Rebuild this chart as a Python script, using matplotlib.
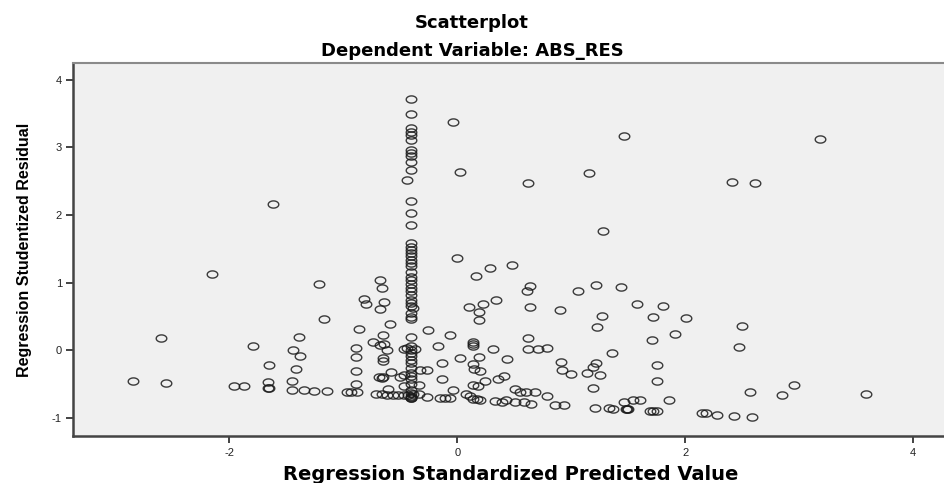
import numpy as np
import matplotlib.pyplot as plt
from matplotlib.path import Path

# 回归标准化预测值 (x) 与学生化残差 (y)
pred = [
    -2.85, -2.56, -2.60, -2.15, -1.96, -1.87, -1.79, -1.615, -1.66, -1.66, -1.65, -1.65,
    -1.45, -1.45, -1.44, -1.42, -1.39, -1.38, -1.35, -1.26, -1.21, -1.17, -1.14, -0.97, -0.93,
    -0.89, -0.89, -0.89, -0.89, -0.88, -0.86, -0.82, -0.80,
    -0.74, -0.68, -0.64, -0.62, -0.68, -0.66, -0.64, -0.68, -0.65, -0.59, -0.65, -0.65,
    -0.69, -0.66, -0.65, -0.58, -0.61,
    -0.71, -0.66, -0.62, -0.56, -0.52, -0.47, -0.43, -0.39, -0.34,
    -0.47, -0.50, -0.47, -0.34, -0.33, -0.27, -0.47, -0.37, -0.44,
    -0.41, -0.41, -0.41, -0.41, -0.41, -0.41, -0.41, -0.41, -0.41, -0.41, -0.41, -0.44,
    -0.41, -0.41, -0.41, -0.41, -0.41, -0.41, -0.41, -0.41, -0.41, -0.41, -0.41, -0.41,
    -0.41, -0.41, -0.41, -0.41, -0.41, -0.41, -0.41, -0.41, -0.41, -0.41, -0.39, -0.41,
    -0.41, -0.41,
    -0.41, -0.41, -0.41, -0.41, -0.41, -0.41, -0.41, -0.41, -0.41, -0.41, -0.41, -0.41,
    -0.41, -0.41, -0.41, -0.41, -0.41,
    -0.26, -0.27, -0.06, -0.17, -0.13, -0.13, 0.02, -0.15, -0.11, -0.06, -0.04,
    0.08, 0.11, 0.14, 0.17,
    -0.04, 0.02, 0.62, 1.16, 1.46, 1.28, 0.00, 0.16, 0.29, 0.48, 0.64, 0.61, 1.06, 1.22,
    1.44, 1.58, 0.10, 0.23, 0.34, 0.19, 0.19, 0.64, 0.90, 1.27, 1.23,
    0.14, 0.14, 0.14, 0.31, 0.19, 0.44, 0.62, 0.62, 0.71, 0.79, 1.36, 0.91, 0.92, 1.00,
    1.14, 1.19, 1.22, 1.25, 0.14, 0.15, 0.20, 0.36, 0.41, 0.24, 0.14, 0.18, 1.19,
    0.51, 0.55, 0.60, 0.68, 0.79, 0.20, 0.33, 0.39, 0.43, 0.51, 0.59, 0.65, 0.86, 0.94,
    1.21, 1.33, 1.37, 1.46, 1.49, 1.48,
    3.18, 2.41, 2.61, 1.81, 1.72, 2.01, 2.50, 1.91, 1.71, 2.47, 1.75, 1.75, 2.96, 2.57,
    2.85, 3.59, 1.86, 1.54, 1.60, 1.50, 1.69, 1.72, 1.75, 2.15, 2.18, 2.28, 2.43, 2.59,
]
resid = [
    -0.45, -0.48, 0.18, 1.13, -0.53, -0.53, 0.07, 2.17, -0.47, -0.56, -0.55, -0.21,
    -0.45, -0.58, 0.01, -0.28, 0.20, -0.09, -0.59, -0.60, 0.98, 0.46, -0.60, -0.61, -0.62,
    0.03, -0.10, -0.31, -0.50, -0.62, 0.32, 0.76, 0.68,
    0.12, 0.08, 0.09, 0.01, 1.04, 0.92, 0.72, 0.61, 0.23, 0.39, -0.12, -0.15,
    -0.39, -0.41, -0.40, -0.32, -0.57,
    -0.65, -0.65, -0.66, -0.66, -0.66, -0.66, -0.66, -0.65, -0.65,
    -0.36, -0.39, -0.53, -0.51, -0.29, -0.29, 0.02, 0.02, 0.04,
    3.71, 3.49, 3.28, 3.23, 3.18, 3.11, 2.96, 2.92, 2.87, 2.79, 2.67, 2.52,
    2.20, 2.03, 1.85, 1.58, 1.53, 1.48, 1.44, 1.39, 1.34, 1.29, 1.24, 1.16,
    1.09, 1.04, 0.98, 0.92, 0.87, 0.82, 0.75, 0.70, 0.65, 0.55, 0.62, 0.50,
    0.46, 0.19,
    0.06, 0.01, -0.04, -0.09, -0.14, -0.19, -0.26, -0.33, -0.38, -0.43, -0.50, -0.58,
    -0.63, -0.67, -0.69, -0.70, -0.70,
    0.30, -0.69, 0.23, 0.07, -0.18, -0.42, -0.12, -0.71, -0.71, -0.71, -0.59,
    -0.64, -0.68, -0.72, -0.72,
    3.37, 2.63, 2.48, 2.62, 3.17, 1.77, 1.36, 1.10, 1.22, 1.26, 0.95, 0.87, 0.87, 0.97,
    0.93, 0.68, 0.64, 0.69, 0.75, 0.57, 0.45, 0.64, 0.60, 0.51, 0.35,
    0.13, 0.10, 0.07, 0.02, -0.10, -0.13, 0.18, 0.02, 0.02, 0.04, -0.04, -0.17, -0.29, -0.35,
    -0.33, -0.25, -0.19, -0.36, -0.20, -0.28, -0.30, -0.42, -0.38, -0.46, -0.51, -0.52, -0.56,
    -0.57, -0.62, -0.62, -0.62, -0.68, -0.73, -0.75, -0.77, -0.73, -0.77, -0.77, -0.80, -0.81, -0.81,
    -0.85, -0.85, -0.86, -0.77, -0.86, -0.87,
    3.12, 2.49, 2.47, 0.65, 0.50, 0.48, 0.36, 0.24, 0.15, 0.05, -0.21, -0.46, -0.51, -0.61,
    -0.66, -0.64, -0.73, -0.74, -0.74, -0.86, -0.90, -0.90, -0.90, -0.93, -0.93, -0.95, -0.97, -0.99,
]
x_ticks = [-2, 0, 2, 4]
y_ticks = [-1, 0, 1, 2, 3, 4]

plt.rcParams['font.family'] = ['Liberation Sans', 'DejaVu Sans']
plt.rcParams['axes.unicode_minus'] = False

# 椭圆形空心标记
t = np.linspace(0, 2 * np.pi, 60)
ellipse = Path(np.column_stack([np.cos(t), 0.68 * np.sin(t)]), closed=True)

fig = plt.figure(figsize=(9.44, 4.83), dpi=100)
ax = fig.add_axes([0.0773, 0.0963, 0.9227, 0.7733])
ax.set_facecolor('#f0f0f0')

ax.plot(pred, resid, linestyle='none', marker=ellipse, markersize=7.6,
        markerfacecolor='none', markeredgecolor='#1a1a1a', markeredgewidth=1.0, alpha=0.85)

ax.set_xlim(-3.374, 4.273)
ax.set_ylim(-1.273, 4.247)
ax.set_xticks(x_ticks)
ax.set_yticks(y_ticks)
ax.tick_params(direction='out', length=5, width=1.2, colors='#222222', labelsize=8, pad=3)

for side in ['left', 'bottom']:
    ax.spines[side].set_color('#444444')
    ax.spines[side].set_linewidth(1.8)
ax.spines['top'].set_color('#8a8a8a')
ax.spines['top'].set_linewidth(1.5)
ax.spines['right'].set_visible(False)

ax.set_ylabel('Regression Studentized Residual', fontsize=11.5, fontweight='bold', labelpad=14)

# 标题和 x 轴标签的位置按参考图的基线放置
fig.text(0.5, 0.943, 'Scatterplot', ha='center', va='baseline',
         fontsize=13, fontweight='bold', family='DejaVu Sans')
fig.text(0.5, 0.884, 'Dependent Variable: ABS_RES', ha='center', va='baseline',
         fontsize=13, fontweight='bold', family='DejaVu Sans')
fig.text(0.5408, 0.006, 'Regression Standardized Predicted Value', ha='center', va='baseline',
         fontsize=14, fontweight='bold', family='DejaVu Sans')

plt.savefig('out.png', dpi=100)
plt.close(fig)
